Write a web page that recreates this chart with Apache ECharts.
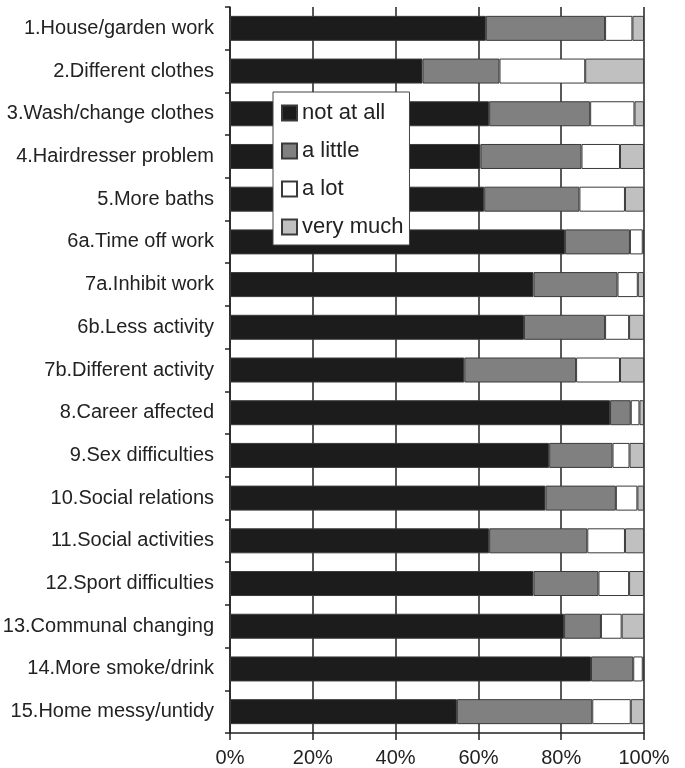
<!DOCTYPE html>
<html>
<head>
<meta charset="utf-8">
<script src="https://cdn.jsdelivr.net/npm/echarts@6/dist/echarts.min.js"></script>
<style>
  html, body { margin: 0; padding: 0; background: #fff; }
  #chart { width: 685px; height: 768px; }
</style>
</head>
<body>
<div id="chart"></div>
<script>
const categories = [
  '1.House/garden work', '2.Different clothes', '3.Wash/change clothes',
  '4.Hairdresser problem', '5.More baths', '6a.Time off work', '7a.Inhibit work',
  '6b.Less activity', '7b.Different activity', '8.Career affected',
  '9.Sex difficulties', '10.Social relations', '11.Social activities',
  '12.Sport difficulties', '13.Communal changing', '14.More smoke/drink',
  '15.Home messy/untidy'
];

const notAtAll = [61.8, 46.5, 62.6, 60.5, 61.4, 80.9, 73.3, 71.0, 56.6, 91.8, 77.1, 76.2, 62.6, 73.3, 80.7, 87.2, 54.8];
const aLittle  = [28.8, 18.6, 24.4, 24.4, 23.0, 15.7, 20.3, 19.6, 27.0, 5.0, 15.3, 17.0, 23.7, 15.7, 8.9, 10.2, 32.7];
const aLot     = [6.6, 20.7, 10.7, 9.3, 11.0, 3.1, 4.9, 5.8, 10.6, 2.1, 4.1, 5.2, 9.1, 7.4, 5.0, 2.3, 9.3];
const veryMuch = [2.8, 14.2, 2.3, 5.8, 4.6, 0.3, 1.5, 3.6, 5.8, 1.1, 3.5, 1.6, 4.6, 3.6, 5.4, 0.3, 3.2];

const xTicks = [0, 20, 40, 60, 80, 100];

const seriesDefs = [
  { name: 'not at all', data: notAtAll, color: '#1c1c1c' },
  { name: 'a little', data: aLittle, color: '#808080' },
  { name: 'a lot', data: aLot, color: '#ffffff' },
  { name: 'very much', data: veryMuch, color: '#c0c0c0' }
];

const font = 'Liberation Sans, Arial, sans-serif';
const chart = echarts.init(document.getElementById('chart'));

chart.setOption({
  animation: false,
  backgroundColor: '#fff',
  grid: { left: 230, right: 41, top: 7, bottom: 35, outerBoundsMode: 'none' },
  legend: {
    orient: 'vertical',
    left: 273,
    top: 92,
    backgroundColor: '#fff',
    borderColor: '#444',
    borderWidth: 1,
    borderRadius: 0,
    padding: [10, 6, 7, 8],
    itemWidth: 15,
    itemHeight: 15,
    itemGap: 16,
    icon: 'rect',
    textStyle: { fontFamily: font, fontSize: 22, color: '#222' },
    data: seriesDefs.map(s => s.name)
  },
  xAxis: {
    type: 'value',
    min: xTicks[0],
    max: xTicks[xTicks.length - 1],
    interval: 20,
    axisLine: { show: true, lineStyle: { color: '#222', width: 1.5 } },
    axisTick: { show: true, length: 7, lineStyle: { color: '#222', width: 1.5 } },
    axisLabel: {
      formatter: '{value}%',
      fontFamily: font,
      fontSize: 20,
      color: '#222',
      margin: 15
    },
    splitLine: { show: true, lineStyle: { color: '#222', width: 1.5 } }
  },
  yAxis: {
    type: 'category',
    inverse: true,
    data: categories,
    axisLine: { show: true, lineStyle: { color: '#222', width: 1.5 } },
    axisTick: { show: true, length: 5, lineStyle: { color: '#222', width: 1.5 } },
    axisLabel: {
      fontFamily: font,
      fontSize: 20,
      color: '#222',
      margin: 16
    }
  },
  series: seriesDefs.map(s => ({
    name: s.name,
    type: 'bar',
    stack: 'total',
    barWidth: 25,
    data: s.data,
    itemStyle: { color: s.color, borderColor: '#3a3a3a', borderWidth: 1 }
  }))
});
</script>
</body>
</html>
